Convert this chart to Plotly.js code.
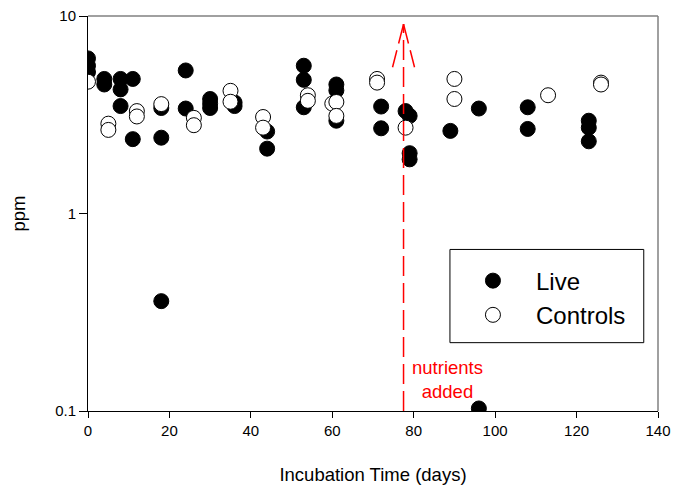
<!DOCTYPE html>
<html>
<head>
<meta charset="utf-8">
<script src="https://cdn.plot.ly/plotly-3.0.1.min.js"></script>
<style>html,body{margin:0;padding:0;background:#fff;}#chart{width:675px;height:492px;}</style>
</head>
<body>
<div id="chart"></div>
<script>
// Live samples (filled circles)
const liveDays = [0, 0, 0, 4, 4, 8, 8, 8, 11, 11, 18, 18, 18, 24, 24, 30, 30, 30, 36, 36, 44, 44,
  53, 53, 53, 61, 61, 61, 72, 72, 78, 79, 79, 79, 89, 96, 96, 108, 108, 123, 123, 123];
const livePpm = [6.1, 5.6, 5.2, 4.8, 4.5, 4.8, 4.25, 3.5, 4.8, 2.38, 3.42, 2.42, 0.36, 5.3, 3.4, 3.8, 3.6, 3.42, 3.65, 3.5, 2.6, 2.13,
  5.6, 4.75, 3.45, 4.5, 4.2, 2.95, 3.48, 2.7, 3.3, 3.12, 2.02, 1.88, 2.62, 3.4, 0.103, 3.45, 2.68, 2.95, 2.72, 2.32];

// Control samples (open circles)
const controlDays = [0, 5, 5, 12, 12, 18, 26, 26, 35, 35, 43, 43, 54, 54, 60, 61, 61, 71, 71, 78, 90, 90, 113, 126, 126];
const controlPpm = [4.65, 2.85, 2.65, 3.3, 3.1, 3.58, 3.05, 2.8, 4.18, 3.68, 3.08, 2.72, 3.97, 3.72, 3.6, 3.67, 3.12, 4.8, 4.6, 2.72, 4.8, 3.8, 3.97, 4.6, 4.5];

const xTicks = [0, 20, 40, 60, 80, 100, 120, 140];
const yTicks = [0.1, 1, 10];
const yTickText = ['0.1', '1', '10'];

const nutrientDay = 77.5;      // day nutrients were added
const arrowTopPpm = 9.1;
const arrowWingPpm = 5.5;
const arrowWingHalf = 2.7;

const FONT = 'Liberation Sans, Arial, sans-serif';

const traces = [
  {
    x: liveDays, y: livePpm, type: 'scatter', mode: 'markers', name: 'Live',
    marker: {symbol: 'circle', size: 15, color: '#000000', line: {color: '#000000', width: 1}}
  },
  {
    x: controlDays, y: controlPpm, type: 'scatter', mode: 'markers', name: 'Controls',
    marker: {symbol: 'circle', size: 15, color: '#ffffff', line: {color: '#000000', width: 1}}
  }
];

const red = '#ff0000';
const layout = {
  width: 675, height: 492,
  margin: {l: 88, r: 17, t: 16, b: 81},
  paper_bgcolor: '#ffffff', plot_bgcolor: '#ffffff',
  font: {family: FONT, color: '#000000', size: 15},
  showlegend: true,
  legend: {
    x: 0.635, y: 0.386, xanchor: 'left', yanchor: 'top',
    bgcolor: 'rgba(0,0,0,0)', borderwidth: 0,
    font: {family: FONT, size: 24, color: '#000000'},
    itemwidth: 76
  },
  xaxis: {
    range: [0, 140], tickvals: xTicks, ticks: 'outside', ticklen: 6, tickcolor: '#000',
    showline: true, linecolor: '#000', linewidth: 1, showgrid: false, zeroline: false,
    tickfont: {size: 15},
    title: {text: 'Incubation Time (days)', font: {size: 18.5}, standoff: 30}
  },
  yaxis: {
    type: 'log', range: [-1, 1], tickvals: yTicks, ticktext: yTickText, ticks: 'outside', ticklen: 8, tickcolor: '#000',
    showline: true, linecolor: '#000', linewidth: 1, showgrid: false, zeroline: false,
    tickfont: {size: 15},
    title: {text: 'ppm', font: {size: 18.5}, standoff: 24}
  },
  shapes: [
    {type: 'line', xref: 'paper', yref: 'paper', x0: 0, x1: 1, y0: 1, y1: 1, line: {color: '#808080', width: 1.5}},
    {type: 'line', xref: 'paper', yref: 'paper', x0: 1, x1: 1, y0: 0, y1: 1, line: {color: '#808080', width: 1.5}},
    {type: 'line', xref: 'x', yref: 'y', x0: nutrientDay, x1: nutrientDay, y0: 0.1, y1: arrowTopPpm,
     line: {color: red, width: 1.5, dash: '20px,7px'}},
    {type: 'line', xref: 'x', yref: 'y', x0: nutrientDay, x1: nutrientDay - arrowWingHalf, y0: arrowTopPpm, y1: arrowWingPpm,
     line: {color: red, width: 1.5, dash: '20px,7px'}},
    {type: 'line', xref: 'x', yref: 'y', x0: nutrientDay, x1: nutrientDay + arrowWingHalf, y0: arrowTopPpm, y1: arrowWingPpm,
     line: {color: red, width: 1.5, dash: '20px,7px'}},
    {type: 'rect', xref: 'paper', yref: 'paper', x0: 0.635, x1: 0.975, y0: 0.173, y1: 0.409,
     line: {color: '#000', width: 1}, fillcolor: 'rgba(0,0,0,0)'}
  ],
  annotations: [
    {text: 'nutrients<br>added', xref: 'x', yref: 'paper', x: 88.4, y: 0.081, showarrow: false,
     font: {family: FONT, size: 18.5, color: red}, xanchor: 'center', yanchor: 'middle'}
  ]
};

Plotly.newPlot('chart', traces, layout, {displayModeBar: false, staticPlot: true});
</script>
</body>
</html>
